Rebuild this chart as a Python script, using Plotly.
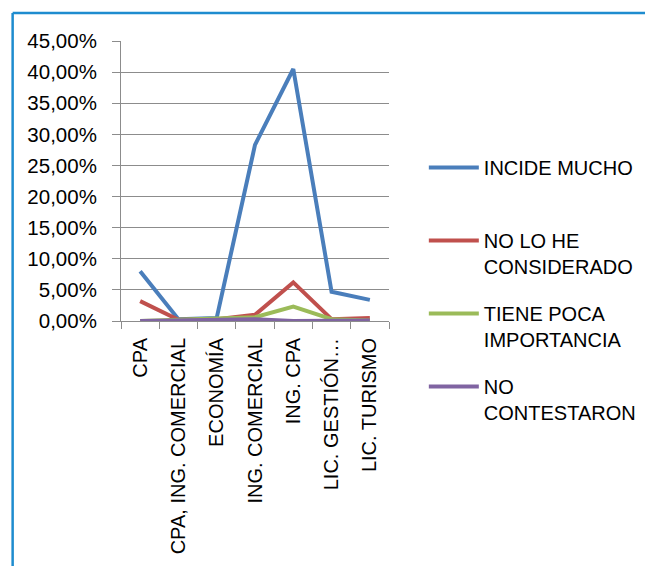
import plotly.graph_objects as go

categories = ["CPA", "CPA, ING. COMERCIAL", "ECONOMÍA", "ING. COMERCIAL",
              "ING. CPA", "LIC. GESTIÓN…", "LIC. TURISMO"]
incide_mucho = [0.080, 0.003, 0.005, 0.283, 0.405, 0.047, 0.034]
no_lo_he = [0.032, 0.002, 0.003, 0.010, 0.062, 0.003, 0.005]
poca_importancia = [0.000, 0.002, 0.004, 0.006, 0.023, 0.003, 0.001]
no_contestaron = [0.000, 0.001, 0.002, 0.003, 0.000, 0.000, 0.001]

series_names = ["INCIDE MUCHO<br> ", "NO LO HE<br>CONSIDERADO",
                "TIENE POCA<br>IMPORTANCIA", "NO<br>CONTESTARON"]
series_values = [incide_mucho, no_lo_he, poca_importancia, no_contestaron]
colors = ["#4A7EBB", "#C0504D", "#9BBB59", "#8064A2"]

fig = go.Figure()
for name, vals, col in zip(series_names, series_values, colors):
    fig.add_trace(go.Scatter(x=categories, y=vals, name=name, mode="lines",
                             line=dict(color=col, width=4), legendgroup=name))

OFF = 8  # page body margin
W, H = 653 - OFF, 566 - OFF
L, R, T, B = 121 - OFF, 398 - OFF, 41 - OFF, 321 - OFF
pw, ph = R - L, B - T

def px(x):
    return (x - OFF - L) / pw

def py(y):
    return (B - (y - OFF)) / ph

font = "Liberation Sans"
fig.update_layout(
    width=W, height=H,
    margin=dict(l=L, r=W - R, t=T, b=H - B),
    paper_bgcolor="white", plot_bgcolor="white",
    separators=",.",
    font=dict(family=font, size=20, color="#000000"),
    showlegend=True,
    legend=dict(x=px(434), y=py(148), xanchor="left", yanchor="top",
                itemwidth=50, tracegroupgap=18, valign="top",
                maxheight=500,
                font=dict(family=font, size=20, color="#000000"),
                bgcolor="rgba(0,0,0,0)"),
    shapes=[
        dict(type="line", xref="paper", yref="paper", x0=px(9), x1=px(700),
             y0=py(13), y1=py(13), line=dict(color="#1E8CCF", width=2.5)),
        dict(type="line", xref="paper", yref="paper", x0=px(9), x1=px(9),
             y0=py(13), y1=py(620), line=dict(color="#1E8CCF", width=2.5)),
    ],
)
fig.update_yaxes(range=[0, 0.45], dtick=0.05, tickformat=".2%",
                 showgrid=True, gridcolor="#8C8C8C", gridwidth=1,
                 showline=True, linecolor="#8C8C8C", linewidth=1,
                 ticks="outside", ticklen=8, tickcolor="#8C8C8C",
                 ticklabelstandoff=11, zeroline=False,
                 tickfont=dict(family=font, size=20.5, color="#000000"))
fig.update_xaxes(type="category", tickangle=-90, showgrid=False,
                 showline=True, linecolor="#8C8C8C", linewidth=1,
                 ticks="outside", ticklen=7, tickcolor="#8C8C8C",
                 tickson="boundaries", range=[-0.5, 6.5],
                 ticklabelstandoff=8,
                 tickfont=dict(family=font, size=20, color="#000000"))

fig.write_html("out.html")
